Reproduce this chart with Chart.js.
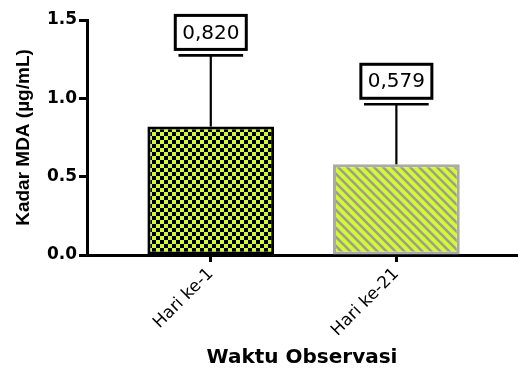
<!DOCTYPE html>
<html lang="id">
  <head>
    <meta charset="UTF-8" />
    <title>Kadar MDA</title>
    <style>
      * {
        margin: 0;
        padding: 0;
      }
      body {
        background: #fff;
      }
      #wrap {
        width: 518px;
        height: 372px;
      }
    </style>
  </head>
  <body>
    <div id="wrap">
      <canvas id="mdaChart" width="518" height="372"></canvas>
    </div>

    <script src="https://cdn.jsdelivr.net/npm/chart.js@4/dist/chart.umd.min.js"></script>
    <script>
      const categories = ['Hari ke-1', 'Hari ke-21']
      const means = [0.82, 0.579]
      const errors = [0.454, 0.383]
      const yTicks = [0, 0.5, 1.0, 1.5]

      const WIDE = '"DejaVu Sans", Verdana, sans-serif'
      const ARIAL = '"Liberation Sans", Arial, sans-serif'
      const LIME = '#d0fa36'

      // checkerboard fill for the first bar
      function checkerPattern() {
        const c = document.createElement('canvas')
        c.width = 8
        c.height = 8
        const g = c.getContext('2d')
        g.fillStyle = LIME
        g.fillRect(0, 0, 8, 8)
        g.fillStyle = '#000'
        g.fillRect(0, 0, 4, 4)
        g.fillRect(4, 4, 4, 4)
        return g.createPattern(c, 'repeat')
      }

      // diagonal stripes for the second bar
      function stripePattern() {
        const c = document.createElement('canvas')
        c.width = 9
        c.height = 9
        const g = c.getContext('2d')
        g.fillStyle = LIME
        g.fillRect(0, 0, 9, 9)
        g.strokeStyle = '#a19d8a'
        g.lineWidth = 2.6
        for (const o of [-9, 0, 9]) {
          g.beginPath()
          g.moveTo(o - 1, -1)
          g.lineTo(o + 10, 10)
          g.stroke()
        }
        return g.createPattern(c, 'repeat')
      }

      // upper error whisker plus the boxed mean value
      const errorBars = {
        id: 'errorBars',
        afterDatasetsDraw(chart) {
          const ctx = chart.ctx
          const meta = chart.getDatasetMeta(0)
          const yScale = chart.scales.y
          ctx.save()
          meta.data.forEach((bar, i) => {
            const capY = yScale.getPixelForValue(means[i] + errors[i])
            const capW = bar.width * 0.51
            ctx.strokeStyle = '#000'
            ctx.lineWidth = 2.2
            ctx.beginPath()
            ctx.moveTo(bar.x, bar.y)
            ctx.lineTo(bar.x, capY)
            ctx.stroke()
            ctx.lineWidth = 2.6
            ctx.beginPath()
            ctx.moveTo(bar.x - capW / 2, capY)
            ctx.lineTo(bar.x + capW / 2, capY)
            ctx.stroke()

            const bw = 71
            const bh = 34
            const bx = bar.x - bw / 2
            const by = capY - 6 - bh
            ctx.fillStyle = '#fff'
            ctx.fillRect(bx, by, bw, bh)
            ctx.lineWidth = 3
            ctx.strokeRect(bx, by, bw, bh)
            ctx.fillStyle = '#000'
            ctx.font = '20px ' + WIDE
            ctx.textAlign = 'center'
            ctx.textBaseline = 'middle'
            ctx.fillText(means[i].toFixed(3).replace('.', ','), bar.x, by + bh / 2 + 1)
          })
          ctx.restore()
        }
      }

      const ctx = document.getElementById('mdaChart')

      new Chart(ctx, {
        type: 'bar',
        data: {
          datasets: [
            {
              data: means.map((v, i) => ({ x: i, y: v })),
              backgroundColor: [checkerPattern(), stripePattern()],
              borderColor: ['#000', '#aaaaaa'],
              borderWidth: 3,
              borderSkipped: false,
              categoryPercentage: 1,
              barPercentage: 0.683
            }
          ]
        },
        options: {
          responsive: false,
          animation: false,
          layout: { padding: { top: 20, right: 1, bottom: 0, left: 0 } },
          plugins: {
            legend: { display: false },
            tooltip: { enabled: false }
          },
          scales: {
            x: {
              type: 'linear',
              offset: false,
              min: -0.667,
              max: 1.65,
              afterBuildTicks: (scale) => {
                scale.ticks = categories.map((_, i) => ({ value: i }))
              },
              afterFit: (scale) => {
                scale.height = 117
              },
              border: { color: '#000', width: 3 },
              grid: {
                offset: false,
                drawOnChartArea: false,
                color: '#000',
                tickLength: 7,
                tickWidth: 3
              },
              ticks: {
                color: '#000',
                font: { family: WIDE, size: 17 },
                minRotation: 45,
                maxRotation: 45,
                autoSkip: false,
                padding: 2,
                callback: (v) => categories[v]
              },
              title: {
                display: true,
                text: 'Waktu Observasi',
                color: '#000',
                font: { family: WIDE, size: 20, weight: 'bold' },
                padding: { top: 2, bottom: 2 }
              }
            },
            y: {
              min: 0,
              max: 1.5,
              afterBuildTicks: (scale) => {
                scale.ticks = yTicks.map((v) => ({ value: v }))
              },
              afterFit: (scale) => {
                scale.width = 87
              },
              border: { color: '#000', width: 3 },
              grid: {
                drawOnChartArea: false,
                color: '#000',
                tickLength: 8,
                tickWidth: 3
              },
              ticks: {
                color: '#000',
                font: { family: WIDE, size: 17, weight: 'bold' },
                padding: 2,
                callback: (v) => v.toFixed(1)
              },
              title: {
                display: true,
                text: 'Kadar MDA (µg/mL)',
                color: '#000',
                font: { family: ARIAL, size: 19, weight: 'bold' },
                padding: { top: 12, bottom: 0 }
              }
            }
          }
        },
        plugins: [errorBars]
      })
    </script>
  </body>
</html>
